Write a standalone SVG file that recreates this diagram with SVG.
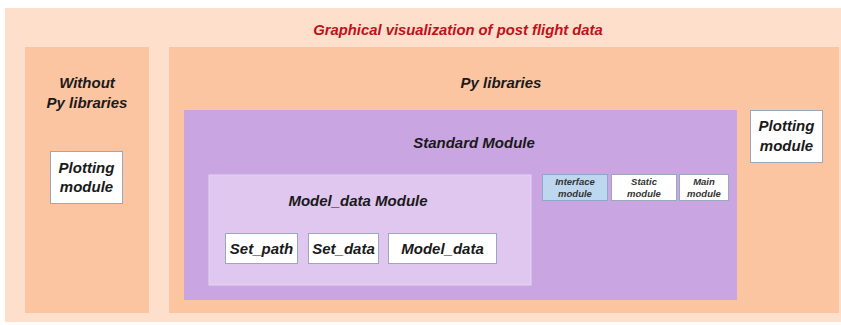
<svg xmlns="http://www.w3.org/2000/svg" width="841" height="325" viewBox="0 0 841 325">
  <style>
    text { font-family: "Liberation Sans", Arial, sans-serif; font-weight: bold; font-style: italic; text-anchor: middle; fill: #1a1a1a; }
    .title { fill: #c0101a; font-size: 14.8px; }
    .head { font-size: 15px; }
    .item { font-size: 15px; }
    .tiny { font-size: 9.5px; fill: #333; }
    .box { fill: #ffffff; stroke: #9aa8bd; stroke-width: 1; }
  </style>

  <!-- outer frame -->
  <g id="frame">
    <rect x="5" y="8" width="836" height="314" fill="#fddfcb"/>
    <text class="title" x="458" y="35">Graphical visualization of post flight data</text>
  </g>

  <!-- left column -->
  <g id="without-py">
    <rect x="25" y="47" width="124" height="266" fill="#fcc5a2"/>
    <text class="head" x="87" y="88">Without</text>
    <text class="head" x="87" y="108">Py libraries</text>
  </g>
  <g id="plotting-left">
    <rect class="box" x="50.5" y="151.5" width="72" height="52"/>
    <text class="item" x="86.5" y="173">Plotting</text>
    <text class="item" x="86.5" y="192">module</text>
  </g>

  <!-- right column -->
  <g id="py-libraries">
    <rect x="169" y="47" width="670" height="266" fill="#fcc5a2"/>
    <text class="head" x="501" y="88">Py libraries</text>
  </g>
  <g id="plotting-right">
    <rect class="box" x="750.5" y="110.5" width="72" height="52"/>
    <text class="item" x="786.5" y="131">Plotting</text>
    <text class="item" x="786.5" y="151">module</text>
  </g>

  <!-- standard module -->
  <g id="standard-module">
    <rect x="184" y="110" width="553" height="190" fill="#c9a6e2"/>
    <text class="head" x="474" y="148">Standard Module</text>
  </g>
  <g id="interface-module">
    <rect x="542.5" y="174.5" width="65" height="26" fill="#bdd7ee" stroke="#8fa6c8"/>
    <text class="tiny" x="575" y="184.5">Interface</text>
    <text class="tiny" x="575" y="197">module</text>
  </g>
  <g id="static-module">
    <rect class="box" x="611.5" y="174.5" width="65" height="26"/>
    <text class="tiny" x="644" y="184.5">Static</text>
    <text class="tiny" x="644" y="197">module</text>
  </g>
  <g id="main-module">
    <rect class="box" x="679.5" y="174.5" width="49" height="26"/>
    <text class="tiny" x="704" y="184.5">Main</text>
    <text class="tiny" x="704" y="197">module</text>
  </g>

  <!-- model_data module -->
  <g id="model-data-module">
    <rect x="209" y="175" width="322" height="110" fill="#dfc7ef" stroke="#e6d3f2"/>
    <text class="head" x="358" y="206">Model_data Module</text>
  </g>
  <g id="set-path">
    <rect class="box" x="225.5" y="233.5" width="72" height="30"/>
    <text class="item" x="261.5" y="254">Set_path</text>
  </g>
  <g id="set-data">
    <rect class="box" x="308.5" y="233.5" width="70" height="30"/>
    <text class="item" x="343.5" y="254">Set_data</text>
  </g>
  <g id="model-data">
    <rect class="box" x="388.5" y="233.5" width="108" height="30"/>
    <text class="item" x="442.5" y="254">Model_data</text>
  </g>

  <!-- connectors: none drawn -->
  <g id="connectors"/>
</svg>
